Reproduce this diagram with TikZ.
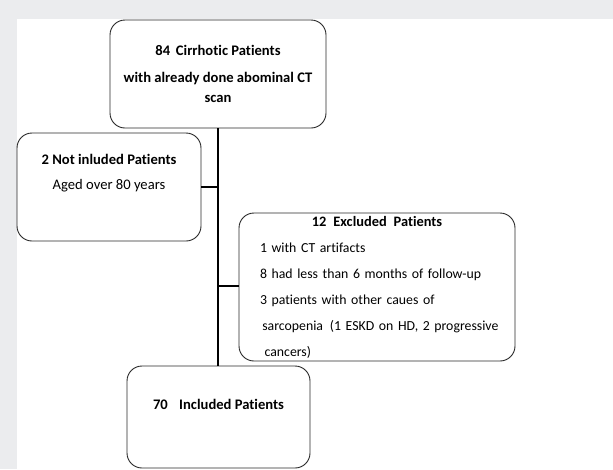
\documentclass[tikz,border=0pt]{standalone}
\usepackage{fontspec}
\setmainfont{Carlito}[Ligatures=NoCommon]
\usepackage{tikz}
\usetikzlibrary{positioning, calc}
\definecolor{PageGray}{RGB}{235, 236, 238}
\definecolor{EdgeGray}{RGB}{40, 40, 40}

\begin{document}
\begin{tikzpicture}[
            x=1pt, y=1pt,
            box/.style={draw=EdgeGray, line width=0.9pt, fill=white, rounded corners=15pt, align=center, font=\fontsize{14.6}{20}\selectfont, inner sep=0pt},
            trunk/.style={line width=2.6pt, black}
        ]

        % --- TLO ---
        \fill[PageGray] (0, 0) rectangle (613, -469);
        \fill[white] (17, -19) rectangle (613, -469);
        \useasboundingbox (0, 0) rectangle (613, -469);

        % --- PUDELKA ---
        \node[box, minimum width=216pt, minimum height=108pt] (all) at (218, -74)
            {\textbf{84\, Cirrhotic Patients}\\[7pt] \textbf{with already done abominal CT}\\ \textbf{scan}};

        \node[box, minimum width=184pt, minimum height=108pt, text depth=30pt] (notinc) at (109, -187)
            {\textbf{2 Not inluded Patients}\\[5pt] Aged over 80 years};

        \node[box, minimum width=276pt, minimum height=148pt, text width=234pt, align=left, font=\fontsize{13.8}{20}\selectfont] (excl) at (377, -287)
            {\makebox[\linewidth]{\fontsize{14.4}{20}\selectfont\textbf{12\, Excluded\, Patients}}\\[6pt]
             \mbox{1 with CT artifacts}\\[6pt]
             \mbox{8 had less than 6 months of follow-up}\\[6pt]
             \mbox{3 patients with other caues of}\\[6pt]
             \mbox{\,sarcopenia\, (1 ESKD on HD, 2 progressive}\\[6pt]
             \mbox{\,\,cancers)}};

        \node[box, minimum width=183pt, minimum height=102pt, text depth=26pt] (incl) at (218.5, -417)
            {\textbf{70\;\; Included Patients}};

        % --- LINIE ---
        \draw[trunk] (all.south) -- (incl.north -| all.south);
        \draw[trunk] (notinc.east) -- (notinc.east -| all.south);
        \draw[trunk] (excl.west |- 0, -286) -- (all.south |- 0, -286);

\end{tikzpicture}
\end{document}
